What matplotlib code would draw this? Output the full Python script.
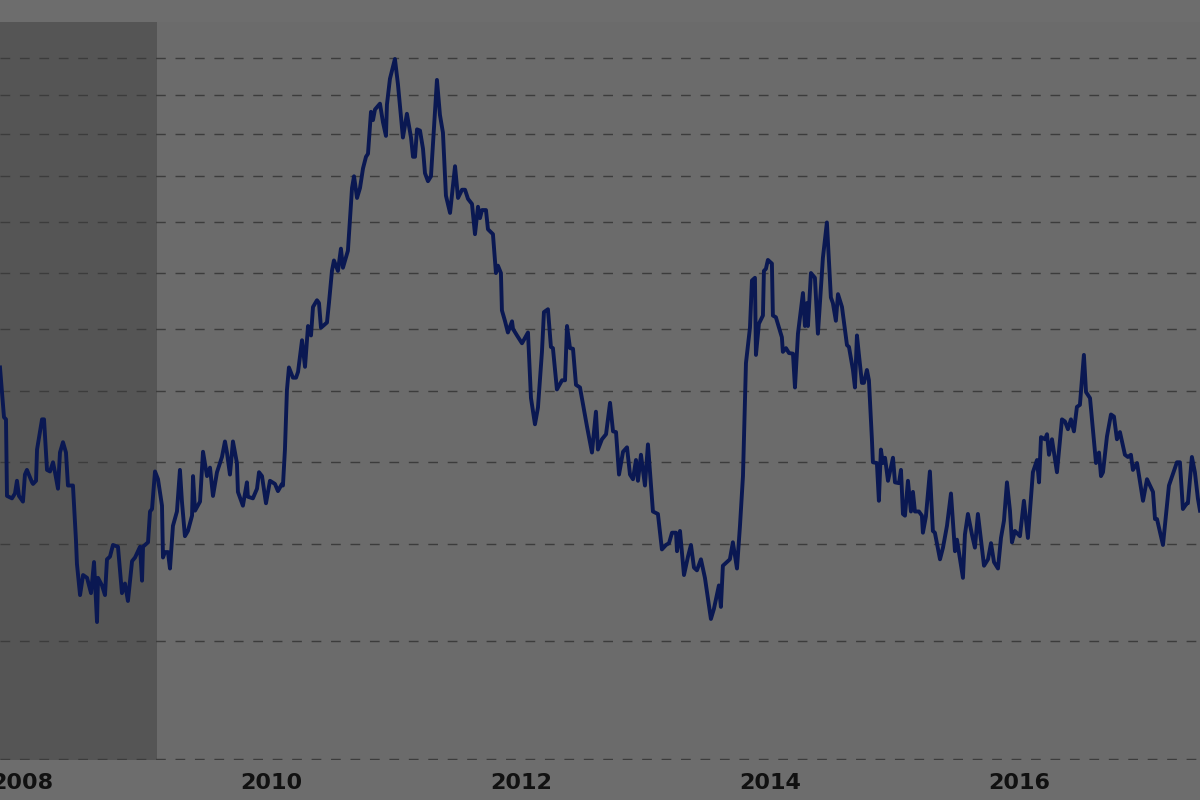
import matplotlib
matplotlib.use("Agg")
import matplotlib.pyplot as plt
from matplotlib.ticker import FixedLocator, NullLocator, NullFormatter

# Weekly-ish price trace (decimal year, value on log axis)
years = [
    2007.824, 2007.856, 2007.872, 2007.880, 2007.920, 2007.944, 2007.960, 2007.976, 2008.008, 2008.024,
    2008.040, 2008.081, 2008.089, 2008.113, 2008.121, 2008.161, 2008.177, 2008.201, 2008.225, 2008.249,
    2008.265, 2008.289, 2008.305, 2008.329, 2008.353, 2008.369, 2008.409, 2008.433, 2008.441, 2008.466,
    2008.490, 2008.522, 2008.554, 2008.578, 2008.602, 2008.610, 2008.642, 2008.666, 2008.682, 2008.706,
    2008.730, 2008.770, 2008.802, 2008.826, 2008.850, 2008.883, 2008.907, 2008.947, 2008.963, 2008.971,
    2009.011, 2009.027, 2009.043, 2009.067, 2009.091, 2009.123, 2009.131, 2009.147, 2009.171, 2009.187,
    2009.211, 2009.243, 2009.267, 2009.283, 2009.307, 2009.331, 2009.364, 2009.372, 2009.388, 2009.428,
    2009.452, 2009.484, 2009.508, 2009.532, 2009.564, 2009.604, 2009.628, 2009.644, 2009.668, 2009.692,
    2009.724, 2009.732, 2009.772, 2009.804, 2009.812, 2009.852, 2009.885, 2009.901, 2009.925, 2009.957,
    2009.989, 2010.029, 2010.053, 2010.085, 2010.093, 2010.109, 2010.125, 2010.141, 2010.173, 2010.198,
    2010.214, 2010.246, 2010.270, 2010.294, 2010.318, 2010.334, 2010.366, 2010.382, 2010.398, 2010.446,
    2010.462, 2010.486, 2010.502, 2010.534, 2010.558, 2010.574, 2010.614, 2010.647, 2010.663, 2010.687,
    2010.711, 2010.735, 2010.759, 2010.775, 2010.799, 2010.815, 2010.831, 2010.871, 2010.895, 2010.919,
    2010.927, 2010.951, 2010.991, 2011.015, 2011.055, 2011.087, 2011.120, 2011.136, 2011.152, 2011.168,
    2011.192, 2011.216, 2011.232, 2011.256, 2011.280, 2011.312, 2011.328, 2011.352, 2011.376, 2011.400,
    2011.433, 2011.473, 2011.497, 2011.529, 2011.553, 2011.577, 2011.609, 2011.633, 2011.657, 2011.673,
    2011.689, 2011.721, 2011.737, 2011.777, 2011.801, 2011.817, 2011.841, 2011.849, 2011.873, 2011.897,
    2011.930, 2011.938, 2011.970, 2012.010, 2012.058, 2012.082, 2012.114, 2012.138, 2012.170, 2012.186,
    2012.218, 2012.242, 2012.258, 2012.290, 2012.331, 2012.355, 2012.371, 2012.395, 2012.419, 2012.443,
    2012.475, 2012.531, 2012.571, 2012.603, 2012.619, 2012.651, 2012.684, 2012.716, 2012.740, 2012.764,
    2012.788, 2012.820, 2012.852, 2012.876, 2012.900, 2012.924, 2012.940, 2012.964, 2012.996, 2013.020,
    2013.060, 2013.100, 2013.132, 2013.165, 2013.189, 2013.213, 2013.245, 2013.253, 2013.277, 2013.309,
    2013.341, 2013.365, 2013.389, 2013.413, 2013.445, 2013.477, 2013.525, 2013.549, 2013.589, 2013.605,
    2013.621, 2013.653, 2013.677, 2013.701, 2013.734, 2013.758, 2013.782, 2013.806, 2013.838, 2013.854,
    2013.878, 2013.886, 2013.910, 2013.942, 2013.950, 2013.966, 2013.982, 2014.014, 2014.022, 2014.046,
    2014.094, 2014.102, 2014.127, 2014.151, 2014.183, 2014.199, 2014.223, 2014.263, 2014.279, 2014.295,
    2014.303, 2014.327, 2014.359, 2014.383, 2014.423, 2014.455, 2014.487, 2014.503, 2014.527, 2014.544,
    2014.576, 2014.616, 2014.632, 2014.664, 2014.680, 2014.696, 2014.712, 2014.736, 2014.752, 2014.776,
    2014.792, 2014.816, 2014.824, 2014.856, 2014.872, 2014.888, 2014.904, 2014.921, 2014.945, 2014.985,
    2015.001, 2015.033, 2015.049, 2015.065, 2015.081, 2015.105, 2015.129, 2015.145, 2015.161, 2015.193,
    2015.217, 2015.225, 2015.249, 2015.281, 2015.305, 2015.321, 2015.362, 2015.386, 2015.418, 2015.450,
    2015.482, 2015.498, 2015.546, 2015.562, 2015.586, 2015.618, 2015.642, 2015.666, 2015.715, 2015.747,
    2015.771, 2015.795, 2015.827, 2015.851, 2015.875, 2015.899, 2015.923, 2015.939, 2015.963, 2016.003,
    2016.035, 2016.067, 2016.107, 2016.140, 2016.156, 2016.172, 2016.204, 2016.220, 2016.236, 2016.260,
    2016.300, 2016.340, 2016.364, 2016.388, 2016.412, 2016.436, 2016.460, 2016.484, 2016.516, 2016.533,
    2016.565, 2016.613, 2016.637, 2016.653, 2016.669, 2016.701, 2016.733, 2016.757, 2016.781, 2016.805,
    2016.845, 2016.869, 2016.893, 2016.909, 2016.942, 2016.990, 2017.022, 2017.070, 2017.086, 2017.102,
    2017.150, 2017.198, 2017.262, 2017.286, 2017.310, 2017.342, 2017.350, 2017.382, 2017.406, 2017.430,
    2017.447,
]
prices = [
    8.37, 7.62, 7.59, 6.57, 6.54, 6.60, 6.76, 6.57, 6.50, 6.84,
    6.90, 6.74, 6.72, 6.76, 7.17, 7.59, 7.59, 6.90, 6.88, 7.00,
    6.87, 6.66, 7.13, 7.27, 7.13, 6.70, 6.70, 6.05, 5.78, 5.45,
    5.66, 5.63, 5.47, 5.80, 5.18, 5.63, 5.55, 5.45, 5.83, 5.86,
    5.99, 5.97, 5.47, 5.57, 5.39, 5.81, 5.85, 5.97, 5.60, 5.97,
    6.02, 6.38, 6.41, 6.88, 6.78, 6.45, 5.85, 5.91, 5.91, 5.73,
    6.21, 6.38, 6.90, 6.50, 6.09, 6.15, 6.33, 6.82, 6.39, 6.50,
    7.14, 6.82, 6.93, 6.57, 6.87, 7.07, 7.28, 7.13, 6.84, 7.28,
    6.99, 6.62, 6.45, 6.74, 6.56, 6.54, 6.66, 6.87, 6.82, 6.48,
    6.76, 6.72, 6.63, 6.72, 6.70, 7.17, 8.02, 8.37, 8.21, 8.21,
    8.30, 8.81, 8.38, 9.05, 8.89, 9.38, 9.50, 9.45, 9.02, 9.11,
    9.45, 10.04, 10.24, 10.04, 10.47, 10.10, 10.43, 11.74, 12.00, 11.52,
    11.74, 12.18, 12.45, 12.52, 13.55, 13.34, 13.61, 13.76, 13.29, 12.95,
    13.74, 14.42, 14.97, 14.28, 12.91, 13.50, 12.91, 12.45, 12.45, 13.11,
    13.08, 12.64, 12.07, 11.89, 12.00, 13.55, 14.39, 13.47, 13.03, 11.57,
    11.20, 12.23, 11.52, 11.70, 11.70, 11.50, 11.39, 10.76, 11.33, 11.09,
    11.26, 11.26, 10.86, 10.76, 10.00, 10.14, 10.00, 9.32, 9.14, 8.94,
    9.13, 9.00, 8.89, 8.76, 8.94, 7.90, 7.52, 7.76, 8.62, 9.29,
    9.34, 8.70, 8.68, 8.03, 8.17, 8.17, 9.05, 8.68, 8.67, 8.10,
    8.06, 7.49, 7.13, 7.70, 7.17, 7.31, 7.38, 7.83, 7.42, 7.41,
    6.84, 7.14, 7.20, 6.84, 6.78, 7.03, 6.76, 7.10, 6.70, 7.24,
    6.38, 6.35, 5.94, 5.99, 6.01, 6.13, 6.13, 5.92, 6.15, 5.66,
    5.86, 5.99, 5.74, 5.71, 5.83, 5.63, 5.21, 5.31, 5.55, 5.33,
    5.76, 5.80, 5.83, 6.02, 5.73, 6.21, 6.82, 8.44, 9.02, 9.86,
    9.91, 8.57, 9.09, 9.23, 10.04, 10.08, 10.25, 10.18, 9.23, 9.20,
    8.86, 8.62, 8.68, 8.60, 8.59, 8.06, 8.92, 9.63, 9.05, 9.45,
    9.05, 10.00, 9.91, 8.92, 10.29, 11.00, 9.55, 9.45, 9.14, 9.61,
    9.38, 8.73, 8.70, 8.33, 8.06, 8.89, 8.57, 8.13, 8.13, 8.33,
    8.17, 7.31, 7.00, 6.99, 6.51, 7.17, 6.99, 7.06, 6.76, 7.06,
    6.74, 6.73, 6.90, 6.35, 6.33, 6.76, 6.38, 6.62, 6.38, 6.38,
    6.33, 6.13, 6.32, 6.88, 6.15, 6.13, 5.83, 5.96, 6.21, 6.60,
    5.92, 6.05, 5.63, 6.11, 6.35, 6.11, 5.96, 6.35, 5.76, 5.83,
    6.01, 5.80, 5.73, 6.07, 6.27, 6.74, 6.39, 6.02, 6.15, 6.09,
    6.51, 6.07, 6.87, 7.03, 6.74, 7.34, 7.31, 7.38, 7.10, 7.31,
    6.87, 7.59, 7.56, 7.45, 7.59, 7.42, 7.77, 7.80, 8.57, 7.99,
    7.90, 6.99, 7.13, 6.82, 6.87, 7.35, 7.66, 7.63, 7.31, 7.41,
    7.10, 7.07, 7.10, 6.90, 6.99, 6.51, 6.78, 6.62, 6.29, 6.29,
    5.99, 6.70, 7.00, 7.00, 6.41, 6.48, 6.48, 7.07, 6.87, 6.54,
    6.39,
]

grid_values = [4, 5, 6, 7, 8, 9, 10, 11, 12, 13, 14, 15]
year_ticks = [2008, 2010, 2012, 2014, 2016]
shade_start, shade_end = 2007.0, 2009.083

fig = plt.figure(figsize=(12, 8), dpi=100, facecolor="#6d6d6d")
ax = fig.add_axes([0, 0.05, 1, 0.9225])
ax.set_facecolor("#6b6b6b")

ax.axvspan(shade_start, shade_end, color="#555555", zorder=0, lw=0)
ax.plot(years, prices, color="#0a1852", lw=2.8, zorder=3)

ax.set_yscale("log")
ax.set_ylim(3.994, 16.05)
ax.set_xlim(2007.824, 2017.447)
ax.yaxis.set_major_locator(FixedLocator(grid_values))
ax.yaxis.set_minor_locator(NullLocator())
ax.yaxis.set_major_formatter(NullFormatter())
ax.yaxis.set_minor_formatter(NullFormatter())
ax.grid(axis="y", color="#3c3c3c", lw=1.0, linestyle=(0, (7, 7)), zorder=1)

ax.set_xticks(year_ticks)
ax.set_xticklabels([str(y) for y in year_ticks])
ax.tick_params(axis="x", length=0, pad=9.5, labelsize=16, labelcolor="#111111")
ax.tick_params(axis="y", length=0)
for lab in ax.get_xticklabels():
    lab.set_fontweight("bold")
for s in ax.spines.values():
    s.set_visible(False)

fig.savefig("out.png", dpi=100, facecolor=fig.get_facecolor())
